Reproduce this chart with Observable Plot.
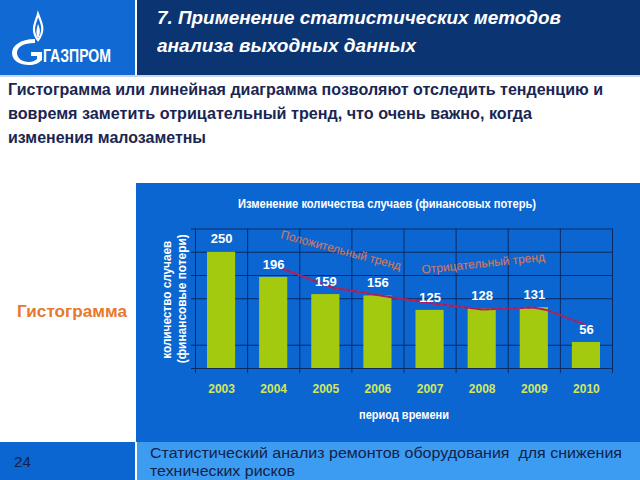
<!DOCTYPE html>
<html>
<head>
<meta charset="utf-8">
<script src="https://cdn.jsdelivr.net/npm/d3@7"></script>
<script src="https://cdn.jsdelivr.net/npm/@observablehq/plot@0.6"></script>
<style>
  html, body { margin: 0; padding: 0; }
  body { width: 640px; height: 480px; position: relative; overflow: hidden; background: #ffffff;
         font-family: "Liberation Sans", Arial, sans-serif; }
  .abs { position: absolute; }
  .fit { white-space: nowrap; display: inline-block; transform-origin: 0 50%; }
</style>
</head>
<body>
<!-- header -->
<div class="abs" style="left:0;top:0;width:135px;height:75px;background:#1169d4;"></div>
<div class="abs" style="left:137px;top:0;width:503px;height:75px;background:#0b3473;"></div>
<div class="abs" style="left:0;top:75px;width:640px;height:2px;background:#c8d6ea;"></div>
<svg class="abs" style="left:0;top:0" width="135" height="75">
  <path d="M38 40 C30 30 36 22 38 14 C41 22 46 30 38 40 Z" fill="none" stroke="#ffffff" stroke-width="2.2"/>
  <path d="M38 38 C35 33 37 28 38 24 C40 28 41 33 38 38 Z" fill="#ffffff"/>
  <path d="M35 39 C20 39 12 46 12 53 C12 61 20 65 29 65 C35 65 39 63 42 60 L42 52 L31 52 L31 56 L37 56 L37 59 C35 61 32 62 29 62 C22 62 17 58 17 53 C17 47 23 43 35 43 Z" fill="#ffffff"/>
</svg>
<div class="abs" style="left:43px;top:46px;line-height:20px;color:#fff;font-weight:bold;font-size:19px;"><span class="fit" data-w="68">ГАЗПРОМ</span></div>
<div class="abs" style="left:157px;top:7px;line-height:22px;color:#fff;font-weight:bold;font-style:italic;font-size:19px;"><span class="fit" data-w="404">7. Применение статистических методов</span></div>
<div class="abs" style="left:157px;top:35px;line-height:22px;color:#fff;font-weight:bold;font-style:italic;font-size:19px;"><span class="fit" data-w="259">анализа выходных данных</span></div>

<!-- body text -->
<div class="abs" style="left:8px;top:79px;line-height:22px;color:#1a2652;font-weight:bold;font-size:17px;"><span class="fit" data-w="595">Гистограмма или линейная диаграмма позволяют отследить тенденцию и</span></div>
<div class="abs" style="left:8px;top:103px;line-height:22px;color:#1a2652;font-weight:bold;font-size:17px;"><span class="fit" data-w="524">вовремя заметить отрицательный тренд, что очень важно, когда</span></div>
<div class="abs" style="left:8px;top:127px;line-height:22px;color:#1a2652;font-weight:bold;font-size:17px;"><span class="fit" data-w="198">изменения малозаметны</span></div>

<div class="abs" style="left:17px;top:301px;line-height:22px;color:#e8782a;font-weight:bold;font-size:17px;"><span class="fit" data-w="110">Гистограмма</span></div>

<!-- chart panel -->
<div class="abs" style="left:136px;top:183px;width:504px;height:259px;background:#0b66d2;"></div>
<div id="chart" class="abs" style="left:135px;top:183px;"></div>

<!-- footer -->
<div class="abs" style="left:0;top:442px;width:135px;height:38px;background:#0b66d2;"></div>
<div class="abs" style="left:137px;top:442px;width:503px;height:38px;background:#3b9cf2;"></div>
<div class="abs" style="left:14px;top:452px;line-height:20px;color:#13214a;font-size:14px;"><span class="fit" data-w="17">24</span></div>
<div class="abs" style="left:150px;top:444px;line-height:18px;color:#13214a;font-size:14px;"><span class="fit" data-w="472">Статистический анализ ремонтов оборудования&nbsp; для снижения</span></div>
<div class="abs" style="left:150px;top:462px;line-height:18px;color:#13214a;font-size:14px;"><span class="fit" data-w="145">технических рисков</span></div>

<script>
// ---- data ----
const years = [2003, 2004, 2005, 2006, 2007, 2008, 2009, 2010];
const cases = [250, 196, 159, 156, 125, 128, 131, 56];
const gridValues = [0, 50, 150, 200, 250, 300];
const bandEdges = [2002.5, 2003.5, 2004.5, 2005.5, 2006.5, 2007.5, 2008.5, 2009.5, 2010.5];
const trendX = [2004.13, 2005.13, 2006.22, 2007.05, 2008.01, 2008.98, 2009.23, 2009.97];
const trendY = [216, 174, 154, 140, 127, 131, 126, 95];
const trendLabels = ["Положительный тренд", "Отрицательный тренд"];
const trendLabelX = [2005.29, 2008.02];
const trendLabelY = [254, 226];
const trendLabelAngle = [15, -6];
const chartTitle = "Изменение количества случаев (финансовых потерь)";
const yLabelLines = ["количество случаев", "(финансовые потери)"];
const xLabel = "период времени";

const bars = years.map((y, i) => ({year: y, cases: cases[i]}));
const trend = trendX.map((x, i) => ({x, y: trendY[i]}));
const tLabels = trendLabels.map((t, i) => ({text: t, x: trendLabelX[i], y: trendLabelY[i], a: trendLabelAngle[i]}));

const gridColor = "#0a2a62";
const font = "'Liberation Sans', Arial, sans-serif";

const chart = Plot.plot({
  width: 505,
  height: 255,
  marginLeft: 60,
  marginRight: 28,
  marginTop: 45.5,
  marginBottom: 70,
  style: {background: "transparent", fontFamily: font, overflow: "visible"},
  x: {domain: [2002.5, 2010.5]},
  y: {domain: [0, 300]},
  marks: [
    Plot.ruleY(gridValues, {x1: 2002.5, x2: 2010.5, stroke: gridColor, strokeWidth: 1}),
    Plot.ruleX(bandEdges, {y1: 0, y2: 300, stroke: gridColor, strokeWidth: 1}),
    Plot.axisX(bandEdges, {tickSize: 5, stroke: gridColor, text: null, label: null}),
    Plot.axisY(gridValues, {tickSize: 4, stroke: gridColor, text: null, label: null}),
    Plot.rectY(bars, {x1: d => d.year - 0.27, x2: d => d.year + 0.27, y: "cases", fill: "#a3ca0e"}),
    Plot.line(trend, {x: "x", y: "y", stroke: "#c4204c", strokeWidth: 2}),
    Plot.line(trend, {x: "x", y: "y", stroke: "#5a2a9a", strokeWidth: 1, strokeDasharray: "3,4", strokeOpacity: 0.7}),
    Plot.text(bars, {x: "year", y: "cases", text: d => String(d.cases), dy: -13, fill: "#ffffff",
      fontWeight: "bold", fontSize: 13, className: "vlab"}),
    Plot.text(tLabels, {x: "x", y: "y", text: "text", rotate: "a", fill: "#c8806e", stroke: "#8a4a5a",
      strokeWidth: 0.3, fontSize: 12, className: "tlab"}),
    Plot.axisX(years, {tickSize: 0, tickPadding: 16, tickFormat: d => String(d), fill: "#d6e65a",
      fontWeight: "bold", fontSize: 12, label: null, className: "xt"}),
    Plot.text([chartTitle], {frameAnchor: "top", textAnchor: "middle", lineAnchor: "middle", dx: -17, dy: -24.5,
      fill: "#ffffff", fontWeight: "bold", fontSize: 12, className: "ttl"}),
    Plot.text([xLabel], {frameAnchor: "bottom", textAnchor: "middle", lineAnchor: "middle", dy: 47,
      fill: "#ffffff", fontWeight: "bold", fontSize: 12, className: "xl"}),
    Plot.text([yLabelLines[0]], {frameAnchor: "left", textAnchor: "middle", lineAnchor: "middle", dx: -28, dy: 1,
      rotate: -90, fill: "#ffffff", fontWeight: "bold", fontSize: 12, className: "yl1"}),
    Plot.text([yLabelLines[1]], {frameAnchor: "left", textAnchor: "middle", lineAnchor: "middle", dx: -13, dy: 0,
      rotate: -90, fill: "#ffffff", fontWeight: "bold", fontSize: 12, className: "yl2"})
  ]
});
document.getElementById("chart").appendChild(chart);

// fit selected chart texts to the reference widths
function fitSvgText(cls, w) {
  chart.querySelectorAll("." + cls + " text").forEach(t => {
    t.setAttribute("textLength", w);
    t.setAttribute("lengthAdjust", "spacingAndGlyphs");
  });
}
fitSvgText("ttl", 298);
fitSvgText("xl", 90);
fitSvgText("yl1", 118);
fitSvgText("yl2", 129);
fitSvgText("tlab", 124);

// fit HTML texts to reference widths
document.querySelectorAll(".fit").forEach(s => {
  const target = +s.dataset.w;
  const w = s.getBoundingClientRect().width;
  if (w > 0) s.style.transform = `scaleX(${target / w})`;
});
</script>
</body>
</html>
